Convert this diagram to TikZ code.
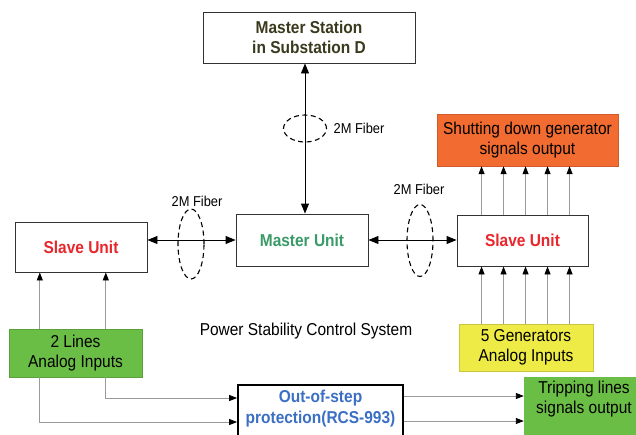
\documentclass[tikz,border=0pt]{standalone}
\usepackage{fontspec}
\setmainfont{Liberation Sans}[FakeStretch=0.9]
\usetikzlibrary{arrows.meta,calc}
\definecolor{boxline}{HTML}{333333}
\definecolor{stationtxt}{HTML}{3A3A1E}
\definecolor{slavered}{HTML}{E8262B}
\definecolor{masterteal}{HTML}{3A9A68}
\definecolor{protblue}{HTML}{3B6FC4}
\definecolor{orangebox}{HTML}{F26B30}
\definecolor{greenbox}{HTML}{6BBE45}
\definecolor{yellowbox}{HTML}{EEEA46}
\definecolor{sigline}{HTML}{9A9A9A}
\begin{document}
\begin{tikzpicture}[x=1pt,y=-1pt,
  font=\fontsize{17.2}{20.5}\selectfont,
  unitbox/.style={draw=boxline,line width=0.9pt,fill=white,inner sep=0pt,align=center,font=\fontsize{17.2}{20.5}\selectfont\bfseries},
  colbox/.style={draw=#1!85!black,line width=0.4pt,fill=#1,inner sep=0pt,align=center},
  fib/.style={line width=0.9pt,{Triangle[length=10pt,width=8pt]}-{Triangle[length=10pt,width=8pt]}},
  ring/.style={line width=1.1pt,dash pattern=on 5pt off 3.5pt},
  sig/.style={draw=sigline,line width=0.9pt,-{Triangle[length=8pt,width=6pt,fill=black,color=black]}},
  fiblabel/.style={font=\fontsize{14.3}{16}\selectfont}]
\useasboundingbox (0,0) rectangle (636,434);

% unit boxes
\node[unitbox,minimum width=212pt,minimum height=51pt,text=stationtxt] (ms) at (309,37.5) {Master Station\\in Substation D};
\node[unitbox,minimum width=132pt,minimum height=50pt,text=slavered] (sl) at (81,247) {Slave Unit};
\node[unitbox,minimum width=132pt,minimum height=52pt,text=masterteal] (mu) at (302,240) {Master Unit};
\node[unitbox,minimum width=131pt,minimum height=51pt,text=slavered] (sr) at (522.5,240.5) {Slave Unit};

% coloured input / output boxes
\node[colbox=orangebox,minimum width=181pt,minimum height=52pt] (or) at (527.5,140) {Shutting down generator\\signals output};
\node[colbox=yellowbox,minimum width=134pt,minimum height=47pt] (ye) at (526,347.5) {5 Generators\\Analog Inputs};
\node[colbox=greenbox,minimum width=133pt,minimum height=48pt] (gl) at (75.5,353) {2 Lines\\Analog Inputs};
\node[colbox=greenbox,draw=none,minimum width=124pt,minimum height=64pt] (tr) at (586,409) {};
\node (trtxt) at (584,399) [align=center] {Tripping lines\\signals output};

% protection box
\node[draw=black,line width=1.8pt,fill=white,minimum width=165pt,minimum height=54pt,inner sep=0pt] (oos) at (320.5,412) {};
\node (oostxt) at (320.5,408.5) [align=center,text=protblue,font=\fontsize{17.2}{20.5}\selectfont\bfseries] {Out-of-step\\protection(RCS-993)};

% system caption
\node (cap) at (306,331) {Power Stability Control System};

% fiber links
\draw[fib] ([xshift=3pt]mu.north) -- ([xshift=3pt]mu.north |- ms.south);
\draw[fib] (sl.east |- mu.west) -- (mu.west);
\draw[fib] (mu.east) -- (mu.east -| sr.west);
\draw[ring] (305,128.5) ellipse [x radius=21.5pt,y radius=13.5pt];
\draw[ring] (191,244) ellipse [x radius=13pt,y radius=35pt];
\draw[ring] (420,240.5) ellipse [x radius=13pt,y radius=36pt];
\node[fiblabel] (f1) at (359,128.5) {2M Fiber};
\node[fiblabel] (f2) at (197,201) {2M Fiber};
\node[fiblabel] (f3) at (419,189) {2M Fiber};

% generator signals
\foreach \dx in {25,47,69,91,113} {
  \draw[sig] ([xshift=\dx pt]sr.north west) -- ([xshift=\dx pt]sr.north west |- or.south);
  \draw[sig] ([xshift=\dx pt]sr.south west |- ye.north) -- ([xshift=\dx pt]sr.south west);
}

% line signals
\coordinate (ga) at ([xshift=31pt]gl.south west);
\coordinate (gb) at ([xshift=97pt]gl.south west);
\draw[sig] ([xshift=31pt]gl.north west) -- ([xshift=31pt]gl.north west |- sl.south);
\draw[sig] ([xshift=97pt]gl.north west) -- ([xshift=97pt]gl.north west |- sl.south);
\draw[sig] (gb) |- (oos.west |- 0,398);
\draw[sig] (ga) |- (oos.west |- 0,422);
\draw[sig] (oos.east |- 0,396) -- (tr.west |- 0,396);
\draw[sig] (oos.east |- 0,421) -- (tr.west |- 0,421);
\end{tikzpicture}
\end{document}
